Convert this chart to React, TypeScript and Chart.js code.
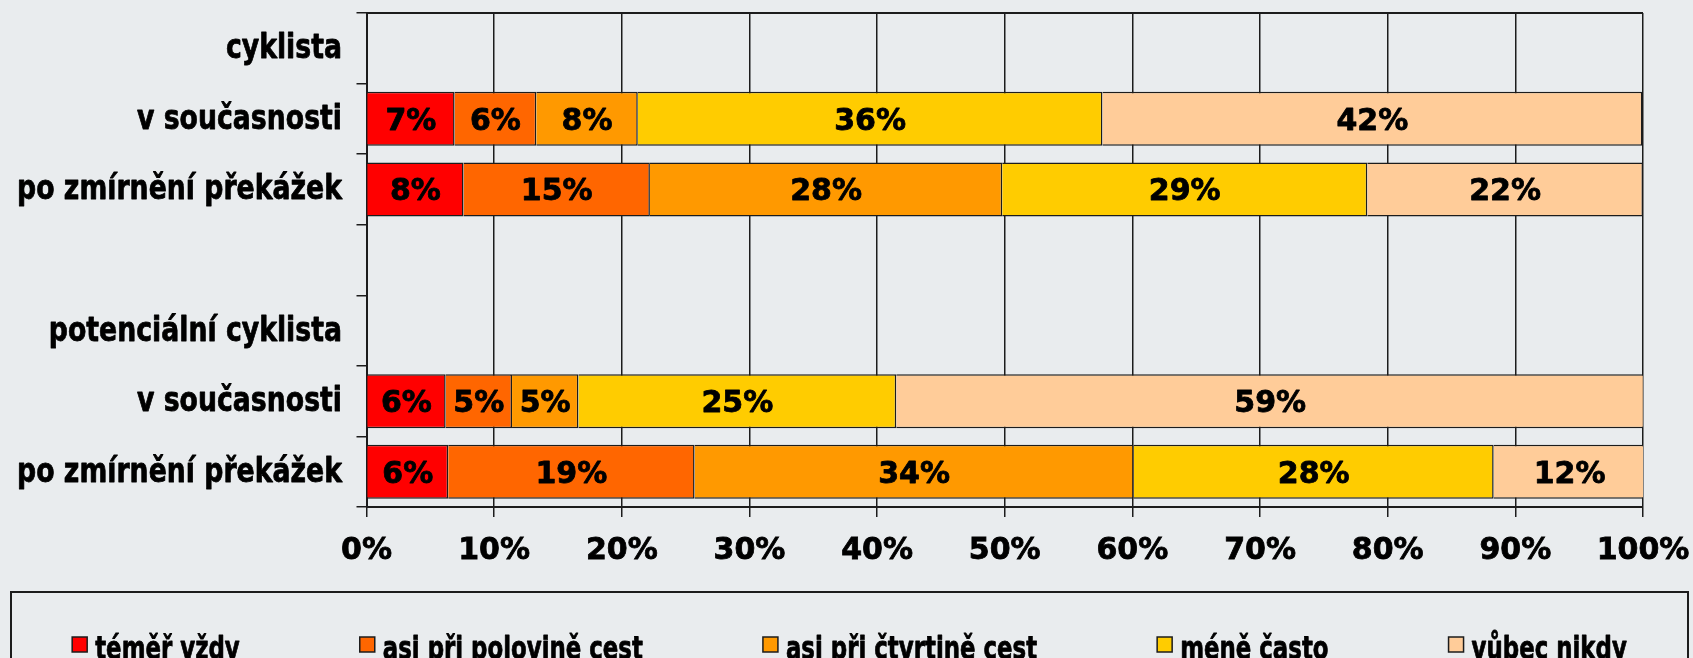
import React, { useEffect, useRef } from 'react';
import { Chart, registerables } from 'chart.js';

Chart.register(...registerables);

const categories = [
  'cyklista',
  'v současnosti',
  'po zmírnění překážek',
  '',
  'potenciální cyklista',
  'v současnosti',
  'po zmírnění překážek',
];

const seriesNames = [
  'téměř vždy',
  'asi při polovině cest',
  'asi při čtvrtině cest',
  'méně často',
  'vůbec nikdy',
];

const temerVzdy = [null, 6.9, 7.6, null, null, 6.2, 6.4];
const asiPolovina = [null, 6.4, 14.6, null, null, 5.2, 19.3];
const asiCtvrtina = [null, 7.95, 27.6, null, null, 5.2, 34.4];
const meneCasto = [null, 36.4, 28.6, null, null, 24.9, 28.2];
const vubecNikdy = [null, 42.3, 21.6, null, null, 58.6, 11.9];

const seriesColors = ['#FF0000', '#FF6600', '#FF9900', '#FFCC00', '#FFCC99'];

const FONT = '"DejaVu Sans", Verdana, sans-serif';
const BG = '#E9ECEE';
const LINE = '#1c1c1c';

const bgPlugin = {
  id: 'bgFill',
  beforeDraw(chart: any) {
    const ctx = chart.ctx;
    ctx.save();
    ctx.fillStyle = BG;
    ctx.fillRect(0, 0, chart.width, chart.height);
    ctx.restore();
  },
};

const frameAndLabels = {
  id: 'frameAndLabels',
  beforeDatasetsDraw(chart: any) {
    const { ctx, chartArea } = chart;
    ctx.save();
    ctx.strokeStyle = LINE;
    ctx.lineWidth = 2;
    ctx.beginPath();
    ctx.moveTo(chartArea.left, chartArea.top);
    ctx.lineTo(chartArea.right, chartArea.top);
    ctx.stroke();
    ctx.restore();
  },
  afterDatasetsDraw(chart: any) {
    const ctx = chart.ctx;
    ctx.save();
    ctx.font = `bold 30px ${FONT}`;
    ctx.fillStyle = '#000';
    ctx.strokeStyle = '#000';
    ctx.lineWidth = 0.8;
    ctx.lineJoin = 'round';
    ctx.textAlign = 'center';
    ctx.textBaseline = 'alphabetic';
    chart.data.datasets.forEach((ds: any, i: number) => {
      const meta = chart.getDatasetMeta(i);
      meta.data.forEach((el: any, j: number) => {
        const v = ds.data[j];
        if (v == null) return;
        const p = el.getProps(['x', 'base', 'y'], true);
        const t = Math.round(v) + '%';
        const cx = (p.x + p.base) / 2;
        ctx.fillText(t, cx, p.y + 11);
        ctx.strokeText(t, cx, p.y + 11);
      });
    });
    ctx.restore();
  },
};

const yLabelsPlugin = {
  id: 'yLabels',
  afterDraw(chart: any) {
    const ctx = chart.ctx;
    const ys = chart.scales.y;
    const right = chart.chartArea.left - 24.5;
    ctx.save();
    ctx.font = `bold 33px ${FONT}`;
    ctx.fillStyle = '#000';
    ctx.strokeStyle = '#000';
    ctx.lineWidth = 0.8;
    ctx.lineJoin = 'round';
    ctx.textAlign = 'right';
    ctx.textBaseline = 'alphabetic';
    chart.data.labels.forEach((lab: string, i: number) => {
      if (!lab) return;
      const y = ys.getPixelForValue(i);
      ctx.save();
      ctx.translate(right, y + 10);
      ctx.scale(0.81, 1);
      ctx.fillText(lab, 0, 0);
      ctx.strokeText(lab, 0, 0);
      ctx.restore();
    });
    ctx.restore();
  },
};

const legendPlugin = {
  id: 'customLegend',
  afterDraw(chart: any) {
    const ctx = chart.ctx;
    ctx.save();
    ctx.strokeStyle = LINE;
    ctx.lineWidth = 2;
    ctx.strokeRect(11, 592, 1677, 140);
    const sx = 0.715;
    ctx.font = `bold 32px ${FONT}`;
    const items = chart.data.datasets.map((ds: any) => ({
      label: ds.label,
      color: ds.backgroundColor,
      w: 15 + 8 + ctx.measureText(ds.label).width * sx,
    }));
    const gap = 120;
    const total = items.reduce((s: number, it: any) => s + it.w, 0) + gap * (items.length - 1);
    let x = (chart.width - total) / 2 + 3;
    for (const it of items) {
      ctx.fillStyle = it.color;
      ctx.fillRect(x, 637, 15, 15);
      ctx.strokeStyle = LINE;
      ctx.lineWidth = 1.5;
      ctx.strokeRect(x, 637, 15, 15);
      ctx.save();
      ctx.translate(x + 23, 659);
      ctx.scale(sx, 1);
      ctx.fillStyle = '#000';
      ctx.strokeStyle = '#000';
      ctx.lineWidth = 0.8;
      ctx.lineJoin = 'round';
      ctx.textAlign = 'left';
      ctx.textBaseline = 'alphabetic';
      ctx.fillText(it.label, 0, 0);
      ctx.strokeText(it.label, 0, 0);
      ctx.restore();
      x += it.w + gap;
    }
    ctx.restore();
  },
};

export default function App() {
  const ref = useRef<HTMLCanvasElement | null>(null);

  useEffect(() => {
    if (!ref.current) return;
    const series = [temerVzdy, asiPolovina, asiCtvrtina, meneCasto, vubecNikdy];
    const chart = new Chart(ref.current, {
      type: 'bar',
      data: {
        labels: categories,
        datasets: series.map((d, i) => ({
          label: seriesNames[i],
          data: d,
          backgroundColor: seriesColors[i],
          borderColor: LINE,
          borderWidth: 1.5,
          categoryPercentage: 1,
          barPercentage: 0.765,
        })),
      },
      options: {
        indexAxis: 'y',
        responsive: false,
        animation: false,
        devicePixelRatio: 1,
        layout: { padding: { top: 13, right: 50, bottom: 0, left: 0 } },
        plugins: {
          legend: { display: false },
          tooltip: { enabled: false },
        },
        scales: {
          x: {
            stacked: true,
            min: 0,
            max: 100,
            afterFit: (s: any) => {
              s.height = 151;
              s.paddingLeft = 0;
              s.paddingRight = 0;
            },
            ticks: {
              stepSize: 10,
              callback: (v: any) => v + '%',
              color: '#000',
              textStrokeColor: '#000',
              textStrokeWidth: 0.8,
              font: { family: FONT, size: 30, weight: 'bold' },
              padding: 16,
              maxRotation: 0,
            },
            grid: {
              color: LINE,
              lineWidth: 1.5,
              tickLength: 10,
              drawTicks: true,
            },
            border: { color: LINE, width: 2 },
          },
          y: {
            stacked: true,
            afterFit: (s: any) => {
              s.width = 366.5;
              s.paddingTop = 0;
              s.paddingBottom = 0;
            },
            ticks: {
              display: false,
              autoSkip: false,
            },
            grid: {
              drawOnChartArea: false,
              drawTicks: true,
              tickLength: 10,
              color: LINE,
              lineWidth: 1.5,
              offset: true,
            },
            border: { color: LINE, width: 2 },
          },
        },
      },
      plugins: [bgPlugin, frameAndLabels, yLabelsPlugin, legendPlugin],
    } as any);
    return () => chart.destroy();
  }, []);

  return (
    <div style={{ position: 'fixed', left: 0, top: 0, width: 1693, height: 658, background: BG }}>
      <canvas ref={ref} width={1693} height={658} style={{ display: 'block' }} />
    </div>
  );
}
